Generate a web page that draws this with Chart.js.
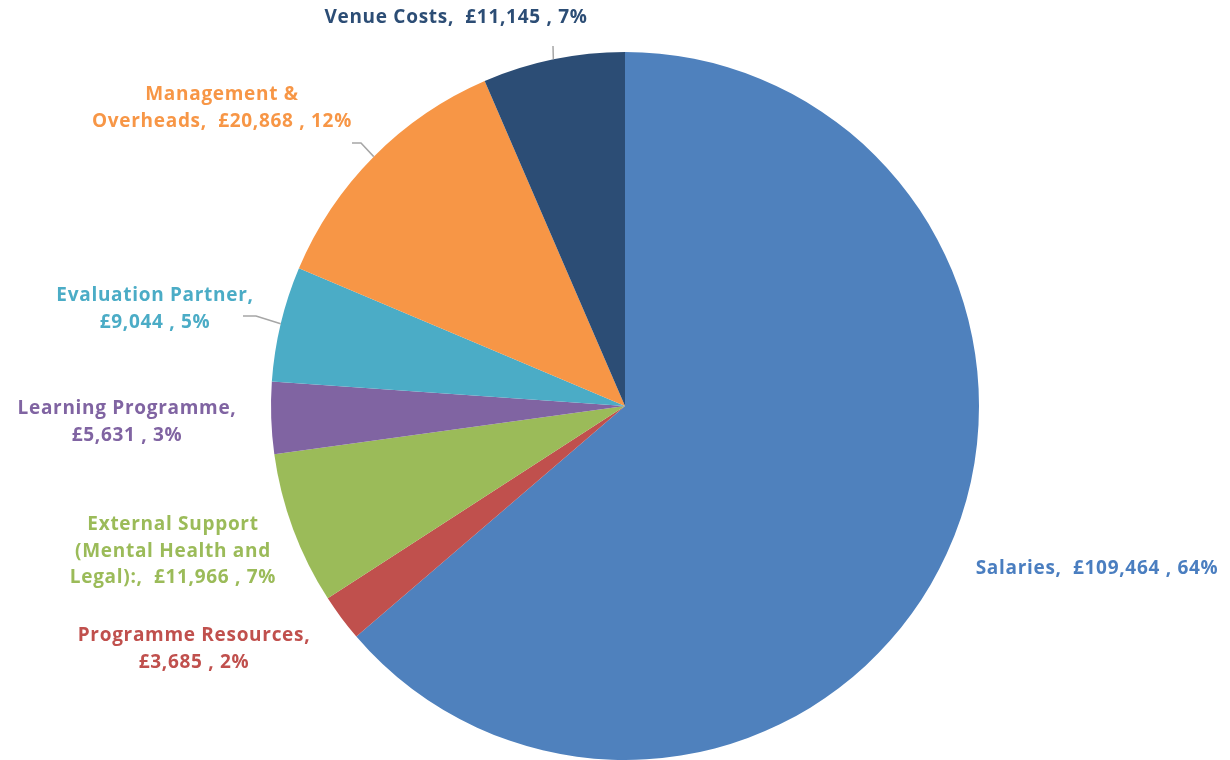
<!DOCTYPE html>
<html>
<head>
<meta charset="utf-8">
<script src="https://cdn.jsdelivr.net/npm/chart.js@4.4.1/dist/chart.umd.min.js"></script>
<style>
html,body{margin:0;padding:0;background:#fff;}
#wrap{width:1230px;height:760px;position:relative;}
</style>
</head>
<body>
<div id="wrap"><canvas id="c" width="1230" height="760"></canvas></div>
<script>
const categories = ["Salaries", "Programme Resources", "External Support (Mental Health and Legal):", "Learning Programme", "Evaluation Partner", "Management & Overheads", "Venue Costs"];
const values = [109464, 3685, 11966, 5631, 9044, 20868, 11145];
const percentLabels = ["64%", "2%", "7%", "3%", "5%", "12%", "7%"];
const sliceColors = ["#4F81BD", "#C0504D", "#9BBB59", "#8064A2", "#4BACC6", "#F79646", "#2C4D75"];
const labelColors = ["#4A7EC0", "#C0504D", "#9BBB59", "#8064A2", "#4BACC6", "#F79646", "#2C4D75"];

function money(v){ return "£" + v.toLocaleString("en-GB"); }
const labelLines = [
  ["Salaries,  " + money(values[0]) + " , " + percentLabels[0]],
  ["Programme Resources,", money(values[1]) + " , " + percentLabels[1]],
  ["External Support", "(Mental Health and", "Legal):,  " + money(values[2]) + " , " + percentLabels[2]],
  ["Learning Programme,", money(values[3]) + " , " + percentLabels[3]],
  ["Evaluation Partner,", money(values[4]) + " , " + percentLabels[4]],
  ["Management &", "Overheads,  " + money(values[5]) + " , " + percentLabels[5]],
  ["Venue Costs,  " + money(values[6]) + " , " + percentLabels[6]]
];
const labelLayout = [
  {x: 1097, y: 569, leader: null},
  {x: 194, y: 636, leader: null},
  {x: 173, y: 525, leader: null},
  {x: 127, y: 409, leader: null},
  {x: 155, y: 296, leader: [[243, 316], [256, 316]]},
  {x: 222, y: 95, leader: [[352, 143], [361, 143]]},
  {x: 456, y: 18, leader: [[553, 46]]}
];

const labelPlugin = {
  id: 'outLabels',
  afterDatasetsDraw(chart) {
    const ctx = chart.ctx;
    const meta = chart.getDatasetMeta(0);
    ctx.save();
    meta.data.forEach((arc, i) => {
      const lay = labelLayout[i];
      if (lay.leader) {
        const mid = (arc.startAngle + arc.endAngle) / 2;
        const ex = arc.x + Math.cos(mid) * arc.outerRadius;
        const ey = arc.y + Math.sin(mid) * arc.outerRadius;
        ctx.strokeStyle = '#A6A6A6';
        ctx.lineWidth = 1.5;
        ctx.beginPath();
        ctx.moveTo(lay.leader[0][0], lay.leader[0][1]);
        for (let k = 1; k < lay.leader.length; k++) ctx.lineTo(lay.leader[k][0], lay.leader[k][1]);
        ctx.lineTo(ex, ey);
        ctx.stroke();
      }
      ctx.fillStyle = labelColors[i];
      ctx.font = 'bold 19px "Open Sans", sans-serif';
      ctx.letterSpacing = '0.7px';
      ctx.textAlign = 'center';
      ctx.textBaseline = 'middle';
      labelLines[i].forEach((t, k) => {
        ctx.fillText(t, lay.x, lay.y + k * 26.5);
      });
    });
    ctx.restore();
  }
};

const bgPlugin = {
  id: 'bg',
  beforeDraw(chart) {
    const ctx = chart.ctx;
    ctx.save();
    ctx.fillStyle = '#fff';
    ctx.fillRect(0, 0, chart.width, chart.height);
    ctx.restore();
  }
};

new Chart(document.getElementById('c'), {
  type: 'pie',
  data: {
    labels: categories,
    datasets: [{
      data: values,
      backgroundColor: sliceColors,
      borderWidth: 0
    }]
  },
  options: {
    responsive: false,
    animation: false,
    layout: { padding: { left: 271, right: 251, top: 52, bottom: 0 } },
    plugins: {
      legend: { display: false },
      tooltip: { enabled: false }
    }
  },
  plugins: [bgPlugin, labelPlugin]
});
</script>
</body>
</html>
